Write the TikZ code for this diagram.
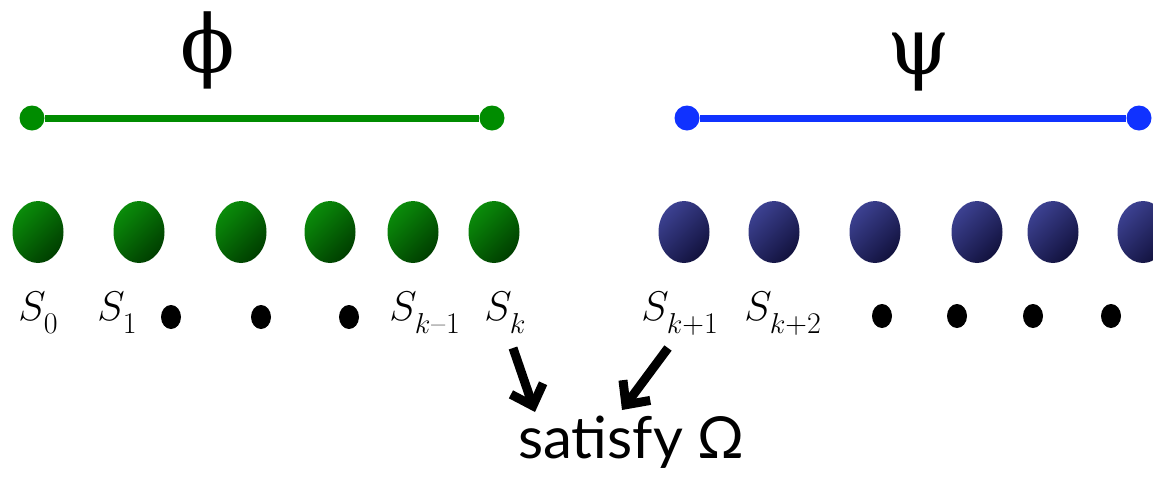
\documentclass[tikz,border=0pt]{standalone}
\usepackage{fontspec}
\newfontfamily\greekfont{DejaVu Serif}
\newfontfamily\notefont{Lato}
\usetikzlibrary{positioning, arrows.meta, shapes.geometric, calc}

\definecolor{phigreen}{RGB}{0,140,0}
\definecolor{psiblue}{RGB}{16,50,255}
\definecolor{greenlight}{RGB}{10,140,10}
\definecolor{greendark}{RGB}{0,62,0}
\definecolor{bluelight}{RGB}{60,65,145}
\definecolor{bluedark}{RGB}{18,18,62}

\newcommand{\slab}[1]{$S$\kern-1pt\raisebox{-6.5pt}{\fontsize{15}{15}\selectfont #1}}

\begin{document}
\begin{tikzpicture}[
        x=0.5pt, y=-0.5pt,
        ball/.style={ellipse, minimum width=25.5pt, minimum height=31pt, inner sep=0pt},
        greenball/.style={ball, top color=greenlight, bottom color=greendark, shading angle=45},
        blueball/.style={ball, top color=bluelight, bottom color=bluedark, shading angle=45},
        enddot/.style={circle, minimum size=12.5pt, inner sep=0pt},
        gdot/.style={enddot, fill=phigreen},
        bdot/.style={enddot, fill=psiblue},
        bullet/.style={ellipse, fill=black, minimum width=10pt, minimum height=12pt, inner sep=0pt},
        state/.style={anchor=base west, inner sep=0pt, font=\fontsize{21}{21}\selectfont},
        glyph/.style={inner sep=0pt, font=\greekfont\fontsize{40}{40}\selectfont},
        arrow/.style={-{Straight Barb[length=9pt, width=17pt]}, line width=4.5pt}
    ]
    \useasboundingbox (0,0) rectangle (1153,483);

    % formula bars
    \node[gdot] (PhiL) at (32,118) {};
    \node[gdot] (PhiR) at (492,118) {};
    \draw[phigreen, line width=3.5pt] (PhiL) -- (PhiR);
    \node[glyph] (Phi) at (208,50) {ϕ};

    \node[bdot] (PsiL) at (687,118) {};
    \node[bdot] (PsiR) at (1139,118) {};
    \draw[psiblue, line width=3.5pt] (PsiL) -- (PsiR);
    \node[glyph] (Psi) at (919,62) {ψ};

    % states
    \node[greenball] (G0) at (38,232) {};
    \node[greenball] (G1) at (139,232) {};
    \node[greenball] (G2) at (241,232) {};
    \node[greenball] (G3) at (330,232) {};
    \node[greenball] (G4) at (413,232) {};
    \node[greenball] (G5) at (494,232) {};

    \node[blueball] (B0) at (684,232) {};
    \node[blueball] (B1) at (774,232) {};
    \node[blueball] (B2) at (875,232) {};
    \node[blueball] (B3) at (977,232) {};
    \node[blueball] (B4) at (1053,232) {};
    \node[blueball] (B5) at (1143,232) {};

    % labels
    \node[state] (S0) at (18,320) {\slab{0}};
    \node[state] (S1) at (97,320) {\slab{1}};
    \node[bullet] (D1) at (171,317) {};
    \node[bullet] (D2) at (261,317) {};
    \node[bullet] (D3) at (349,317) {};
    \node[state] (Skm) at (389,320) {\slab{$k$\kern0.5pt–\kern0.5pt1}};
    \node[state] (Sk) at (484,320) {\slab{$k$}};

    \node[state] (Skp1) at (641,320) {\slab{$k$+1}};
    \node[state] (Skp2) at (744,320) {\slab{$k$+2}};
    \node[bullet] (D4) at (882,316) {};
    \node[bullet] (D5) at (957,316) {};
    \node[bullet] (D6) at (1033,316) {};
    \node[bullet] (D7) at (1111,316) {};

    \node[anchor=base west, inner sep=0pt, font=\notefont\fontsize{29}{29}\selectfont] (Sat) at (518,458) {satisfy Ω};

    \coordinate (FromK) at (513,348);
    \coordinate (SatA) at (535,412);
    \coordinate (FromK1) at (668,348);
    \coordinate (SatB) at (622,410);

    \draw[arrow] (FromK) -- (SatA);
    \draw[arrow] (FromK1) -- (SatB);

    \end{tikzpicture}
\end{document}
